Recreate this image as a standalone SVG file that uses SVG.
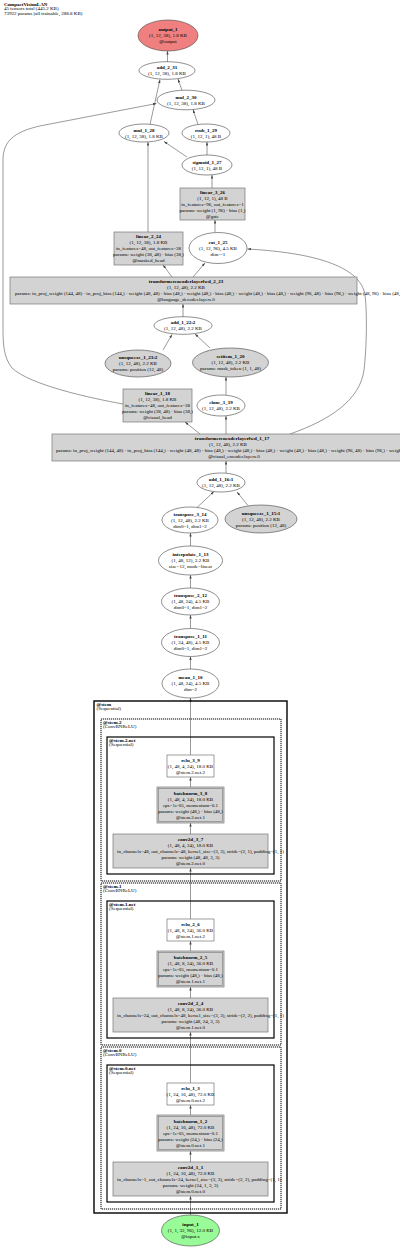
<svg xmlns="http://www.w3.org/2000/svg" width="400" height="1249" viewBox="0 0 400 1249">
<defs>
<marker id="ah" viewBox="0 0 6 4" refX="6" refY="2" markerWidth="3.6" markerHeight="2.4" orient="auto" markerUnits="userSpaceOnUse"><path d="M0,0 L6,2 L0,4z" fill="#444"/></marker>
<style>
text{font-family:"Liberation Serif","Times New Roman",serif;font-size:5px;fill:#000;text-anchor:middle}
.b{font-weight:bold}
.l{text-anchor:start}
.hd{font-size:5px}
.el{fill:#fff;stroke:#444;stroke-width:0.6}
.eg{fill:#d3d3d3;stroke:#444;stroke-width:0.6}
.bx{fill:#d3d3d3;stroke:#777;stroke-width:0.7}
.wb{fill:#fff;stroke:#777;stroke-width:0.7}
.edge{fill:none;stroke:#555;stroke-width:0.6;marker-end:url(#ah)}
.cl{fill:none;stroke:#000}
.c0{stroke-width:1.4}
.cd{stroke-width:1;stroke-dasharray:1.2,0.8}
.cn{stroke-width:1.2}
</style>
</defs>
<rect width="400" height="1249" fill="#fff"/>
<g id="title">
<text class="l b hd" x="4" y="5.5">CompactVisionLAN</text>
<text class="l hd" x="4" y="10">45 tensors total (445.2 KB)</text>
<text class="l hd" x="4" y="14.5">73922 params (all trainable, 288.8 KB)</text>
</g>
<g id="connectors">
<path class="edge" d="M167.5,62 L167.5,51"/>
<path class="edge" d="M182,90.5 L178,79"/>
<path class="edge" d="M150,124.5 L160,79.5"/>
<path class="edge" d="M198,124.5 L193,109.5"/>
<path class="edge" d="M207,155 L207,142"/>
<path class="edge" d="M187,157 L164,141.5"/>
<path class="edge" d="M212,188 L212,175"/>
<path class="edge" d="M148,232 L148,142"/>
<path class="edge" d="M215,232 L215,220"/>
<path class="edge" d="M172,277 L163,265"/>
<path class="edge" d="M193,277 L205,263"/>
<path class="edge" d="M183,317 L183,304"/>
<path class="edge" d="M163,350 L172,334.5"/>
<path class="edge" d="M210,348 L195,334"/>
<path class="edge" d="M226,395 L226,377"/>
<path class="edge" d="M226,434 L226,416"/>
<path class="edge" d="M200,434 L185,422"/>
<path class="edge" d="M290,434 C330,420 360,400 364,370 C367,345 367,310 365,295 C360,262 300,252 247.5,249"/>
<path class="edge" d="M123,404 C90,398 30,385 12,368 C4,358 3,345 3,330 L3,160 C3,140 15,130 50,124 L156.5,103.5"/>
<path class="edge" d="M226,473 L226,461"/>
<path class="edge" d="M197,507.5 L214,491.5"/>
<path class="edge" d="M248,505.5 L237,492"/>
<path class="edge" d="M190.5,546 L190.5,533"/>
<path class="edge" d="M190.5,588 L190.5,575"/>
<path class="edge" d="M190.5,628.5 L190.5,615"/>
<path class="edge" d="M190.5,669 L190.5,656.5"/>
<path class="edge" d="M190.5,755 L190.5,698"/>
<path class="edge" d="M190.5,787 L190.5,777"/>
<path class="edge" d="M190.5,834 L190.5,823"/>
<path class="edge" d="M190.5,919 L190.5,868"/>
<path class="edge" d="M190.5,951 L190.5,941"/>
<path class="edge" d="M190.5,998 L190.5,987"/>
<path class="edge" d="M190.5,1083 L190.5,1032"/>
<path class="edge" d="M190.5,1115 L190.5,1105"/>
<path class="edge" d="M190.5,1162 L190.5,1151"/>
<path class="edge" d="M190.5,1215 L190.5,1196"/>
</g>
<g id="output_1">
<ellipse cx="168" cy="35.5" rx="30" ry="15.5" fill="#f08080" stroke="#444" stroke-width="0.6"/>
<text class="b" x="168" y="31">output_1</text>
<text x="168" y="37.2">(1, 12, 38), 1.8 KB</text>
<text x="168" y="43.4">@output</text>
</g>
<g id="add_2_31">
<ellipse class="el" cx="167" cy="70.5" rx="28" ry="8.8"/>
<text class="b" x="167" y="69.2">add_2_31</text>
<text x="167" y="75.2">(1, 12, 38), 1.8 KB</text>
</g>
<g id="mul_2_30">
<ellipse class="el" cx="186" cy="100" rx="29" ry="9.8"/>
<text class="b" x="186" y="98.7">mul_2_30</text>
<text x="186" y="104.7">(1, 12, 38), 1.8 KB</text>
</g>
<g id="mul_1_28">
<ellipse class="el" cx="144" cy="133" rx="25" ry="9"/>
<text class="b" x="144" y="131.7">mul_1_28</text>
<text x="144" y="137.7">(1, 12, 38), 1.8 KB</text>
</g>
<g id="rsub_1_29">
<ellipse class="el" cx="206" cy="133" rx="24" ry="9"/>
<text class="b" x="206" y="131.7">rsub_1_29</text>
<text x="206" y="137.7">(1, 12, 1), 48 B</text>
</g>
<g id="sigmoid_1_27">
<ellipse class="el" cx="207" cy="165" rx="25" ry="10"/>
<text class="b" x="207" y="163.7">sigmoid_1_27</text>
<text x="207" y="169.7">(1, 12, 1), 48 B</text>
</g>
<g id="linear_3_26">
<rect class="bx" x="180" y="188" width="65" height="32"/>
<text class="b" x="212.5" y="193.7">linear_3_26</text>
<text x="212.5" y="199.7">(1, 12, 1), 48 B</text>
<text x="212.5" y="205.7">in_features=96, out_features=1</text>
<text x="212.5" y="211.7">params: weight (1, 96) · bias (1,)</text>
<text x="212.5" y="217.7">@gate</text>
</g>
<g id="linear_2_24">
<rect class="bx" x="114" y="232" width="69" height="33"/>
<text class="b" x="148.5" y="238.2">linear_2_24</text>
<text x="148.5" y="244.2">(1, 12, 38), 1.8 KB</text>
<text x="148.5" y="250.2">in_features=48, out_features=38</text>
<text x="148.5" y="256.2">params: weight (38, 48) · bias (38,)</text>
<text x="148.5" y="262.2">@masked_head</text>
</g>
<g id="cat_1_25">
<ellipse class="el" cx="218" cy="248" rx="29" ry="15.5"/>
<text class="b" x="218" y="243.5">cat_1_25</text>
<text x="218" y="249.7">(1, 12, 96), 4.5 KB</text>
<text x="218" y="255.9">dim=-1</text>
</g>
<g id="transformerencoderlayerfwd_2_23">
<rect class="bx" x="10" y="277" width="347" height="27"/>
<text class="b" x="186" y="283.2">transformerencoderlayerfwd_2_23</text>
<text x="186" y="289.2">(1, 12, 48), 2.2 KB</text>
<text class="l" x="15" y="295.2">params: in_proj_weight (144, 48) · in_proj_bias (144,) · weight (48, 48) · bias (48,) · weight (48,) · bias (48,) · weight (48,) · bias (48,) · weight (96, 48) · bias (96,) · weight (48, 96) · bias (48,)</text>
<text x="186" y="301.2">@language_decoder.layers.0</text>
</g>
<g id="add_1_22_2">
<ellipse class="el" cx="183" cy="325.5" rx="29" ry="8.8"/>
<text class="b" x="183" y="324.2">add_1_22:2</text>
<text x="183" y="330.2">(1, 12, 48), 2.2 KB</text>
</g>
<g id="unsqueeze_1_23_2">
<ellipse class="eg" cx="138" cy="363.5" rx="33" ry="13.5"/>
<text class="b" x="138" y="359">unsqueeze_1_23:2</text>
<text x="138" y="365.2">(1, 12, 48), 2.2 KB</text>
<text x="138" y="371.4">params: position (12, 48)</text>
</g>
<g id="setitem_1_20">
<ellipse class="eg" cx="230.5" cy="362.5" rx="38" ry="14.5"/>
<text class="b" x="230.5" y="358">setitem_1_20</text>
<text x="230.5" y="364.2">(1, 12, 48), 2.2 KB</text>
<text x="230.5" y="370.4">params: mask_token (1, 1, 48)</text>
</g>
<g id="clone_1_19">
<ellipse class="el" cx="221" cy="405.5" rx="24" ry="10.5"/>
<text class="b" x="221" y="404.2">clone_1_19</text>
<text x="221" y="410.2">(1, 12, 48), 2.2 KB</text>
</g>
<g id="linear_1_18">
<rect class="bx" x="123" y="389" width="69" height="33"/>
<text class="b" x="157.5" y="395.2">linear_1_18</text>
<text x="157.5" y="401.2">(1, 12, 38), 1.8 KB</text>
<text x="157.5" y="407.2">in_features=48, out_features=38</text>
<text x="157.5" y="413.2">params: weight (38, 48) · bias (38,)</text>
<text x="157.5" y="419.2">@visual_head</text>
</g>
<g id="transformerencoderlayerfwd_1_17">
<rect class="bx" x="52" y="434" width="360" height="27"/>
<text class="b" x="232" y="440.2">transformerencoderlayerfwd_1_17</text>
<text x="228" y="446.2">(1, 12, 48), 2.2 KB</text>
<text class="l" x="56" y="452.2">params: in_proj_weight (144, 48) · in_proj_bias (144,) · weight (48, 48) · bias (48,) · weight (48,) · bias (48,) · weight (48,) · bias (48,) · weight (96, 48) · bias (96,) · weight (48, 96) · bias (48,)</text>
<text x="234" y="458.2">@visual_encoder.layers.0</text>
</g>
<g id="add_1_16_1">
<ellipse class="el" cx="221" cy="482.5" rx="24" ry="9.5"/>
<text class="b" x="221" y="481.2">add_1_16:1</text>
<text x="221" y="487.2">(1, 12, 48), 2.2 KB</text>
</g>
<g id="transpose_3_14">
<ellipse class="el" cx="190" cy="520" rx="28" ry="13"/>
<text class="b" x="190" y="515.5">transpose_3_14</text>
<text x="190" y="521.7">(1, 12, 48), 2.2 KB</text>
<text x="190" y="527.9">dim0=1, dim1=2</text>
</g>
<g id="unsqueeze_1_15_1">
<ellipse class="eg" cx="261" cy="519" rx="36" ry="14"/>
<text class="b" x="261" y="514.5">unsqueeze_1_15:1</text>
<text x="261" y="520.7">(1, 12, 48), 2.2 KB</text>
<text x="261" y="526.9">params: position (12, 48)</text>
</g>
<g id="interpolate_1_13">
<ellipse class="el" cx="190.5" cy="560.5" rx="32" ry="14.5"/>
<text class="b" x="190.5" y="556">interpolate_1_13</text>
<text x="190.5" y="562.2">(1, 48, 12), 2.2 KB</text>
<text x="190.5" y="568.4">size=12, mode=linear</text>
</g>
<g id="transpose_2_12">
<ellipse class="el" cx="190.5" cy="601.5" rx="29" ry="13.5"/>
<text class="b" x="190.5" y="597">transpose_2_12</text>
<text x="190.5" y="603.2">(1, 48, 24), 4.5 KB</text>
<text x="190.5" y="609.4">dim0=1, dim1=2</text>
</g>
<g id="transpose_1_11">
<ellipse class="el" cx="190.5" cy="642.5" rx="29" ry="14"/>
<text class="b" x="190.5" y="638">transpose_1_11</text>
<text x="190.5" y="644.2">(1, 24, 48), 4.5 KB</text>
<text x="190.5" y="650.4">dim0=1, dim1=2</text>
</g>
<g id="mean_1_10">
<ellipse class="el" cx="190.5" cy="683.5" rx="28.5" ry="14.5"/>
<text class="b" x="190.5" y="679">mean_1_10</text>
<text x="190.5" y="685.2">(1, 48, 24), 4.5 KB</text>
<text x="190.5" y="691.4">dim=2</text>
</g>
<g id="cluster_stem">
<rect class="cl c0" x="94" y="701" width="193" height="512"/>
<text class="l b" x="96.5" y="705.5">@stem</text>
<text class="l" x="96.5" y="710">(Sequential)</text>
</g>
<g id="cluster_stem_2">
<rect class="cl cd" x="101" y="719" width="180" height="162"/>
<text class="l b" x="103" y="723.5">@stem.2</text>
<text class="l" x="103" y="728">(ConvBNReLU)</text>
</g>
<g id="cluster_stem_2_net">
<rect class="cl cn" x="107" y="737" width="167" height="137"/>
<text class="l b" x="109" y="741.5">@stem.2.net</text>
<text class="l" x="109" y="746">(Sequential)</text>
</g>
<g id="relu_3_9">
<rect class="wb" x="167" y="755" width="47" height="22"/>
<text class="b" x="190.5" y="761.7">relu_3_9</text>
<text x="190.5" y="767.7">(1, 48, 4, 24), 18.0 KB</text>
<text x="190.5" y="773.7">@stem.2.net.2</text>
</g>
<g id="batchnorm_3_8">
<rect class="bx" x="157" y="787" width="67" height="36"/>
<rect fill="none" stroke="#777" stroke-width="0.6" x="158.6" y="788.6" width="63.8" height="32.8"/>
<text class="b" x="190.5" y="794.7">batchnorm_3_8</text>
<text x="190.5" y="800.7">(1, 48, 4, 24), 18.0 KB</text>
<text x="190.5" y="806.7">eps=1e-05, momentum=0.1</text>
<text x="190.5" y="812.7">params: weight (48,) · bias (48,)</text>
<text x="190.5" y="818.7">@stem.2.net.1</text>
</g>
<g id="conv2d_3_7">
<rect class="bx" x="113" y="834" width="155" height="34"/>
<text class="b" x="190.5" y="840.7">conv2d_3_7</text>
<text x="190.5" y="846.7">(1, 48, 4, 24), 18.0 KB</text>
<text class="l" x="117" y="852.7">in_channels=48, out_channels=48, kernel_size=(3, 3), stride=(2, 1), padding=(1, 1)</text>
<text x="190.5" y="858.7">params: weight (48, 48, 3, 3)</text>
<text x="190.5" y="864.7">@stem.2.net.0</text>
</g>
<g id="cluster_stem_1">
<rect class="cl cd" x="101" y="883" width="180" height="162"/>
<text class="l b" x="103" y="887.5">@stem.1</text>
<text class="l" x="103" y="892">(ConvBNReLU)</text>
</g>
<g id="cluster_stem_1_net">
<rect class="cl cn" x="107" y="901" width="167" height="137"/>
<text class="l b" x="109" y="905.5">@stem.1.net</text>
<text class="l" x="109" y="910">(Sequential)</text>
</g>
<g id="relu_2_6">
<rect class="wb" x="167" y="919" width="47" height="22"/>
<text class="b" x="190.5" y="925.7">relu_2_6</text>
<text x="190.5" y="931.7">(1, 48, 8, 24), 36.0 KB</text>
<text x="190.5" y="937.7">@stem.1.net.2</text>
</g>
<g id="batchnorm_2_5">
<rect class="bx" x="157" y="951" width="67" height="36"/>
<rect fill="none" stroke="#777" stroke-width="0.6" x="158.6" y="952.6" width="63.8" height="32.8"/>
<text class="b" x="190.5" y="958.7">batchnorm_2_5</text>
<text x="190.5" y="964.7">(1, 48, 8, 24), 36.0 KB</text>
<text x="190.5" y="970.7">eps=1e-05, momentum=0.1</text>
<text x="190.5" y="976.7">params: weight (48,) · bias (48,)</text>
<text x="190.5" y="982.7">@stem.1.net.1</text>
</g>
<g id="conv2d_2_4">
<rect class="bx" x="113" y="998" width="155" height="34"/>
<text class="b" x="190.5" y="1004.7">conv2d_2_4</text>
<text x="190.5" y="1010.7">(1, 48, 8, 24), 36.0 KB</text>
<text class="l" x="117" y="1016.7">in_channels=24, out_channels=48, kernel_size=(3, 3), stride=(2, 2), padding=(1, 1)</text>
<text x="190.5" y="1022.7">params: weight (48, 24, 3, 3)</text>
<text x="190.5" y="1028.7">@stem.1.net.0</text>
</g>
<g id="cluster_stem_0">
<rect class="cl cd" x="101" y="1047" width="180" height="162"/>
<text class="l b" x="103" y="1051.5">@stem.0</text>
<text class="l" x="103" y="1056">(ConvBNReLU)</text>
</g>
<g id="cluster_stem_0_net">
<rect class="cl cn" x="107" y="1065" width="167" height="137"/>
<text class="l b" x="109" y="1069.5">@stem.0.net</text>
<text class="l" x="109" y="1074">(Sequential)</text>
</g>
<g id="relu_1_3">
<rect class="wb" x="167" y="1083" width="47" height="22"/>
<text class="b" x="190.5" y="1089.7">relu_1_3</text>
<text x="190.5" y="1095.7">(1, 24, 16, 48), 72.0 KB</text>
<text x="190.5" y="1101.7">@stem.0.net.2</text>
</g>
<g id="batchnorm_1_2">
<rect class="bx" x="157" y="1115" width="67" height="36"/>
<rect fill="none" stroke="#777" stroke-width="0.6" x="158.6" y="1116.6" width="63.8" height="32.8"/>
<text class="b" x="190.5" y="1122.7">batchnorm_1_2</text>
<text x="190.5" y="1128.7">(1, 24, 16, 48), 72.0 KB</text>
<text x="190.5" y="1134.7">eps=1e-05, momentum=0.1</text>
<text x="190.5" y="1140.7">params: weight (24,) · bias (24,)</text>
<text x="190.5" y="1146.7">@stem.0.net.1</text>
</g>
<g id="conv2d_1_1">
<rect class="bx" x="113" y="1162" width="155" height="34"/>
<text class="b" x="190.5" y="1168.7">conv2d_1_1</text>
<text x="190.5" y="1174.7">(1, 24, 16, 48), 72.0 KB</text>
<text class="l" x="117" y="1180.7">in_channels=1, out_channels=24, kernel_size=(3, 3), stride=(2, 2), padding=(1, 1)</text>
<text x="190.5" y="1186.7">params: weight (24, 1, 3, 3)</text>
<text x="190.5" y="1192.7">@stem.0.net.0</text>
</g>
<g id="input_1">
<ellipse cx="190.5" cy="1230.5" rx="29" ry="15.5" fill="#98fb98" stroke="#444" stroke-width="0.6"/>
<text class="b" x="190.5" y="1226">input_1</text>
<text x="190.5" y="1232.2">(1, 1, 32, 96), 12.0 KB</text>
<text x="190.5" y="1238.4">@input.x</text>
</g>
</svg>
